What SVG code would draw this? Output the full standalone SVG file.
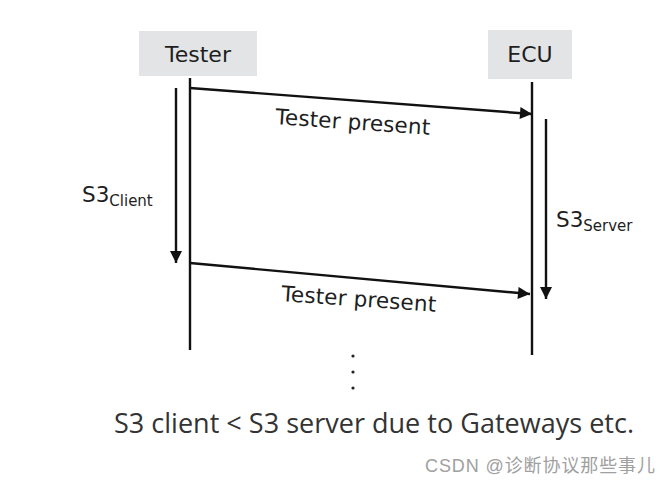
<svg xmlns="http://www.w3.org/2000/svg" width="671" height="486" viewBox="0 0 671 486">
<style>
.box{fill:#e3e4e6;}
.hd{font-family:"DejaVu Sans","Liberation Sans",sans-serif;font-size:22px;fill:#1e1e1e;text-anchor:middle;}
.lbl{font-family:"DejaVu Sans","Liberation Sans",sans-serif;font-size:21.5px;fill:#1e1e1e;}
.ln{stroke:#111;stroke-width:2.4;fill:none;}
.note{font-family:"Open Sans","Noto Sans",sans-serif;font-size:27px;fill:#333;}
.wm{font-family:"Liberation Sans","Noto Sans CJK SC",sans-serif;font-size:18px;fill:#a0a0a0;}
</style>
<defs>
<marker id="ah" viewBox="0 0 10 10" refX="10" refY="5" markerWidth="5.5" markerHeight="5" orient="auto" markerUnits="strokeWidth">
<path d="M0,0 L10,5 L0,10 z" fill="#111"/>
</marker>
</defs>
<rect width="671" height="486" fill="#fff"/>
<g id="tester">
<rect class="box" x="139" y="31" width="118" height="45"/>
<text class="hd" x="198" y="62">Tester</text>
</g>
<g id="ecu">
<rect class="box" x="488" y="30" width="84" height="49"/>
<text class="hd" x="530" y="62">ECU</text>
</g>
<g id="connectors">
<line class="ln" x1="190" y1="78" x2="190" y2="350"/>
<line class="ln" x1="532" y1="82" x2="532" y2="355"/>
<line class="ln" x1="190" y1="88" x2="532" y2="114" marker-end="url(#ah)"/>
<line class="ln" x1="190" y1="263" x2="530" y2="294" marker-end="url(#ah)"/>
<line class="ln" x1="176" y1="88" x2="176" y2="263" marker-end="url(#ah)"/>
<line class="ln" x1="546" y1="119" x2="546" y2="299" marker-end="url(#ah)"/>
</g>
<g id="labels">
<text class="lbl" transform="translate(275,124) rotate(4)" textLength="155">Tester present</text>
<text class="lbl" transform="translate(281,301) rotate(4)" textLength="155">Tester present</text>
<text class="lbl" x="82" y="202" font-size="23">S3<tspan font-size="15" dy="4">Client</tspan></text>
<text class="lbl" x="556" y="227" font-size="23">S3<tspan font-size="15" dy="4">Server</tspan></text>
</g>
<g id="dots" fill="#222">
<circle cx="353" cy="356" r="1.6"/>
<circle cx="353" cy="372" r="1.6"/>
<circle cx="353" cy="388" r="1.6"/>
</g>
<text class="note" x="114" y="433" textLength="520">S3 client &lt; S3 server due to Gateways etc.</text>
<text class="wm" x="425" y="472" textLength="230">CSDN @诊断协议那些事儿</text>
</svg>
